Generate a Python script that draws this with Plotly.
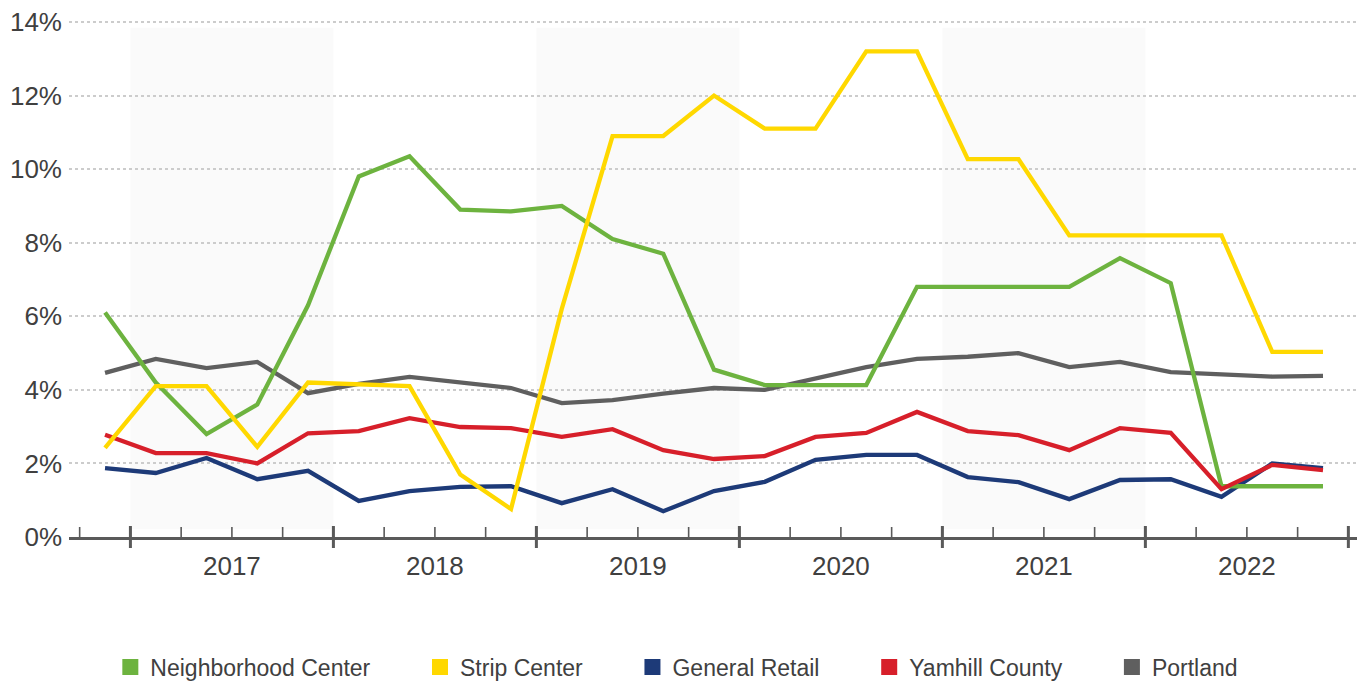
import plotly.graph_objects as go
import numpy as np

quarters = ["2016 Q4",
            "2017 Q1", "2017 Q2", "2017 Q3", "2017 Q4",
            "2018 Q1", "2018 Q2", "2018 Q3", "2018 Q4",
            "2019 Q1", "2019 Q2", "2019 Q3", "2019 Q4",
            "2020 Q1", "2020 Q2", "2020 Q3", "2020 Q4",
            "2021 Q1", "2021 Q2", "2021 Q3", "2021 Q4",
            "2022 Q1", "2022 Q2", "2022 Q3", "2022 Q4"]
years = ["2017", "2018", "2019", "2020", "2021", "2022"]
shaded_years = ["2017", "2019", "2021"]

neighborhood = [6.1, 4.2, 2.8, 3.6, 6.3, 9.8, 10.35, 8.9, 8.85, 9.0, 8.1, 7.7, 4.55,
                4.13, 4.13, 4.13, 6.8, 6.8, 6.8, 6.8, 7.58, 6.9, 1.38, 1.38, 1.38]
strip = [2.42, 4.1, 4.1, 2.45, 4.2, 4.15, 4.1, 1.7, 0.76, 6.2, 10.9, 10.9, 12.0,
         11.1, 11.1, 13.2, 13.2, 10.27, 10.27, 8.2, 8.2, 8.2, 8.2, 5.03, 5.03]
general = [1.87, 1.74, 2.15, 1.57, 1.8, 0.98, 1.25, 1.36, 1.38, 0.92, 1.3, 0.7, 1.25,
           1.5, 2.1, 2.23, 2.23, 1.63, 1.49, 1.03, 1.55, 1.57, 1.09, 2.0, 1.87]
yamhill = [2.78, 2.28, 2.28, 2.0, 2.82, 2.88, 3.23, 2.99, 2.96, 2.72, 2.93, 2.36, 2.12,
           2.2, 2.72, 2.83, 3.4, 2.88, 2.77, 2.36, 2.96, 2.83, 1.3, 1.96, 1.82]
portland = [4.46, 4.84, 4.59, 4.76, 3.91, 4.16, 4.35, 4.2, 4.05, 3.64, 3.72, 3.9, 4.05,
            4.0, 4.32, 4.62, 4.84, 4.9, 5.0, 4.62, 4.76, 4.48, 4.42, 4.36, 4.38]

y_ticks = [0, 2, 4, 6, 8, 10, 12, 14]

series = {
    "Neighborhood Center": (neighborhood, "#6db33f"),
    "Strip Center": (strip, "#ffd800"),
    "General Retail": (general, "#1d3a78"),
    "Yamhill County": (yamhill, "#d71f2a"),
    "Portland": (portland, "#5f5f5f"),
}
draw_order = ["Portland", "General Retail", "Neighborhood Center", "Yamhill County", "Strip Center"]

x = np.arange(len(quarters))
FONT = "Liberation Sans, Arial, sans-serif"
TXT = "#404040"
AX = "#5a5a5a"

fig = go.Figure()

for name in draw_order:
    vals, col = series[name]
    fig.add_trace(go.Scatter(x=x, y=vals, mode="lines", name=name, showlegend=False,
                             line=dict(color=col, width=4.3), hoverinfo="skip"))

for name, (vals, col) in series.items():
    fig.add_trace(go.Scatter(x=[None], y=[None], mode="markers", name=name + "\u00a0" * 7,
                             marker=dict(symbol="square", size=18, color=col)))

year_idx = {yr: [i for i, q in enumerate(quarters) if q.startswith(yr)] for yr in years}
year_centers = [float(np.mean(year_idx[yr])) for yr in years]

shapes = []
for yr in shaded_years:
    idx = year_idx[yr]
    shapes.append(dict(type="rect", xref="x", yref="paper", x0=min(idx) - 0.5, x1=max(idx) + 0.5,
                       y0=0.015, y1=0.985, fillcolor="#fafafa", line=dict(width=0), layer="below"))

H = 517.0
for i in x:
    shapes.append(dict(type="line", xref="x", yref="paper", x0=i - 0.5, x1=i - 0.5,
                       y0=0, y1=10 / H, line=dict(color=AX, width=1.6)))
bounds = sorted(set([min(year_idx[yr]) - 0.5 for yr in years] + [max(year_idx[yr]) + 0.5 for yr in years]))
for b in bounds:
    shapes.append(dict(type="line", xref="x", yref="paper", x0=b, x1=b,
                       y0=-11 / H, y1=11 / H, line=dict(color=AX, width=3)))

fig.update_layout(
    width=1359, height=676,
    margin=dict(l=61, r=10, t=12, b=147, autoexpand=False),
    paper_bgcolor="white", plot_bgcolor="white",
    font=dict(family=FONT, color=TXT),
    shapes=shapes,
    showlegend=True,
    legend=dict(orientation="h", x=0.489, xanchor="center", y=-0.2515, yanchor="middle",
                font=dict(size=23, color=TXT, family=FONT), itemsizing="trace",
                traceorder="normal"),
    xaxis=dict(range=[-0.71, 24.67], showgrid=False, zeroline=False,
               showline=True, linecolor=AX, linewidth=2.5,
               tickmode="array", tickvals=year_centers, ticktext=years, ticks="",
               tickfont=dict(size=26, color=TXT, family=FONT), ticklabelstandoff=4),
    yaxis=dict(range=[0, 14.054], tickvals=y_ticks, ticktext=[f"{v}%" for v in y_ticks],
               showgrid=True, gridcolor="#cccccc", griddash="dot", gridwidth=1.5,
               zeroline=False, showline=False, ticks="", ticklabeloverflow="allow",
               tickfont=dict(size=26, color=TXT, family=FONT), ticklabelstandoff=6),
)

fig.write_html("out.html")
